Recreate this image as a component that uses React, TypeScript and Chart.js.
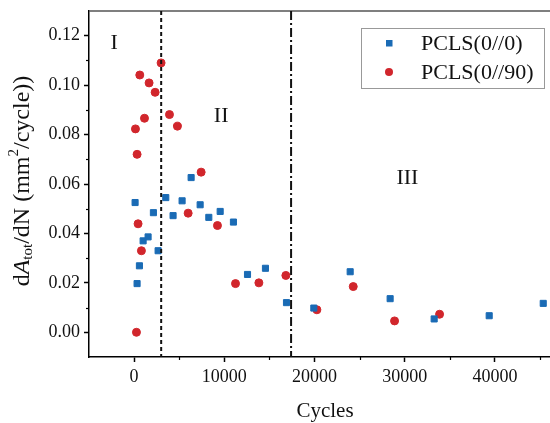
import React, { useEffect, useRef } from 'react';
import { Chart, registerables } from 'chart.js';

Chart.register(...registerables);

// PCLS(0//0) — blue squares
const cyclesA = [110, 330, 590, 1000, 1550, 2140, 2660, 3510, 4320, 5320, 6320, 7320, 8280, 9540, 11010, 12570, 14560, 16890, 19920, 23950, 28380, 33260, 39360, 45350];
const rateA = [0.0525, 0.0197, 0.0269, 0.037, 0.0386, 0.0484, 0.033, 0.0545, 0.0472, 0.0532, 0.0626, 0.0516, 0.0465, 0.0489, 0.0446, 0.0234, 0.0259, 0.012, 0.0098, 0.0245, 0.0136, 0.0054, 0.0067, 0.0117];

// PCLS(0//90) — red circles
const cyclesB = [150, 260, 330, 440, 630, 810, 1150, 1660, 2330, 2990, 3920, 4800, 5990, 7430, 9240, 11240, 13830, 16820, 20260, 24290, 28870, 33860];
const rateB = [0.0823, 0.0, 0.072, 0.0439, 0.1041, 0.033, 0.0866, 0.1009, 0.0971, 0.109, 0.0881, 0.0834, 0.0482, 0.0648, 0.0432, 0.0197, 0.02, 0.023, 0.0091, 0.0185, 0.0046, 0.0073];

const seriesLabels = ['PCLS(0//0)', 'PCLS(0//90)'];
const seriesColors = ['#1a6bb5', '#d1262c'];

const xTicks = [0, 10000, 20000, 30000, 40000];
const xMinorTicks = [5000, 15000, 25000, 35000, 45000];
const yTicks = [0, 0.02, 0.04, 0.06, 0.08, 0.1, 0.12];
const yMinorTicks = [0.01, 0.03, 0.05, 0.07, 0.09, 0.11];

const stageBoundaries = [3000, 17400];
const stageNames = ['I', 'II', 'III'];
const stageNameX = [-2200, 9650, 30300];
const stageNameY = [0.117, 0.0875, 0.0625];

const FONT = '"Liberation Serif", "Times New Roman", serif';

const overlayPlugin = {
  id: 'overlay',
  afterDatasetsDraw(chart: any) {
    const { ctx, chartArea, scales } = chart;
    const xs = scales.x;
    const ys = scales.y;
    ctx.save();

    // top frame line
    ctx.strokeStyle = '#555';
    ctx.lineWidth = 1.5;
    ctx.beginPath();
    ctx.moveTo(chartArea.left, chartArea.top);
    ctx.lineTo(chartArea.right, chartArea.top);
    ctx.stroke();

    // minor ticks
    ctx.strokeStyle = '#000';
    ctx.lineWidth = 1.2;
    xMinorTicks.forEach((v) => {
      const px = Math.round(xs.getPixelForValue(v)) + 0.5;
      ctx.beginPath();
      ctx.moveTo(px, chartArea.bottom);
      ctx.lineTo(px, chartArea.bottom + 3);
      ctx.stroke();
    });
    yMinorTicks.forEach((v) => {
      const py = Math.round(ys.getPixelForValue(v)) + 0.5;
      ctx.beginPath();
      ctx.moveTo(chartArea.left, py);
      ctx.lineTo(chartArea.left - 3, py);
      ctx.stroke();
    });

    // stage boundaries
    const dashes = [[4, 3], [9, 3, 2, 3]];
    stageBoundaries.forEach((v, i) => {
      const px = xs.getPixelForValue(v);
      ctx.strokeStyle = '#111';
      ctx.lineWidth = 2;
      ctx.setLineDash(dashes[i]);
      ctx.beginPath();
      ctx.moveTo(px, chartArea.top);
      ctx.lineTo(px, chartArea.bottom);
      ctx.stroke();
    });
    ctx.setLineDash([]);

    // stage names
    ctx.fillStyle = '#111';
    ctx.font = `22px ${FONT}`;
    ctx.textAlign = 'center';
    ctx.textBaseline = 'middle';
    stageNames.forEach((n, i) => {
      ctx.fillText(n, xs.getPixelForValue(stageNameX[i]), ys.getPixelForValue(stageNameY[i]));
    });

    // legend
    const lx = 361, ly = 28, lw = 183, lh = 60;
    ctx.fillStyle = '#fff';
    ctx.fillRect(lx, ly, lw, lh);
    ctx.strokeStyle = '#999';
    ctx.lineWidth = 1;
    ctx.strokeRect(lx + 0.5, ly + 0.5, lw, lh);
    const rows = [43, 72];
    seriesLabels.forEach((lab, i) => {
      ctx.fillStyle = seriesColors[i];
      if (i === 0) {
        ctx.fillRect(389 - 3, rows[i] - 3, 6.5, 6.5);
      } else {
        ctx.beginPath();
        ctx.arc(389, rows[i], 4, 0, Math.PI * 2);
        ctx.fill();
      }
      ctx.fillStyle = '#111';
      ctx.font = `22px ${FONT}`;
      ctx.textAlign = 'left';
      ctx.textBaseline = 'middle';
      ctx.fillText(lab, 421, rows[i] + 1);
    });

    // x title
    ctx.fillStyle = '#111';
    ctx.font = `21px ${FONT}`;
    ctx.textAlign = 'center';
    ctx.textBaseline = 'middle';
    ctx.fillText('Cycles', 325, 411);

    // y title (rotated, rich text)
    const big = 24;
    const small = 15;
    const parts: { t: string; size: number; italic?: boolean; dy: number }[] = [
      { t: 'd', size: big, dy: 0 },
      { t: 'A', size: big, italic: true, dy: 0 },
      { t: 'tot', size: small, dy: 5 },
      { t: '/dN (mm', size: big, dy: 0 },
      { t: '2', size: small, dy: -9 },
      { t: '/cycle))', size: big, dy: 0 },
    ];
    let total = 0;
    parts.forEach((p) => {
      ctx.font = `${p.italic ? 'italic ' : ''}${p.size}px ${FONT}`;
      total += ctx.measureText(p.t).width;
    });
    ctx.translate(23, 181);
    ctx.rotate(-Math.PI / 2);
    ctx.textAlign = 'left';
    ctx.textBaseline = 'middle';
    let cx = -total / 2;
    parts.forEach((p) => {
      ctx.font = `${p.italic ? 'italic ' : ''}${p.size}px ${FONT}`;
      ctx.fillText(p.t, cx, p.dy);
      cx += ctx.measureText(p.t).width;
    });

    ctx.restore();
  },
};

export default function App() {
  const ref = useRef<HTMLCanvasElement | null>(null);

  useEffect(() => {
    if (!ref.current) return;
    const chart = new Chart(ref.current, {
      type: 'scatter',
      data: {
        datasets: [
          {
            label: seriesLabels[0],
            data: cyclesA.map((x, i) => ({ x, y: rateA[i] })),
            pointStyle: 'rect',
            pointRadius: 4.3,
            pointBackgroundColor: seriesColors[0],
            pointBorderColor: seriesColors[0],
            pointBorderWidth: 1,
            showLine: false,
          },
          {
            label: seriesLabels[1],
            data: cyclesB.map((x, i) => ({ x, y: rateB[i] })),
            pointStyle: 'circle',
            pointRadius: 4,
            pointBackgroundColor: seriesColors[1],
            pointBorderColor: seriesColors[1],
            pointBorderWidth: 1,
            showLine: false,
          },
        ],
      },
      options: {
        animation: false,
        responsive: false,
        devicePixelRatio: 1,
        layout: { autoPadding: false, padding: { top: 11, right: 0, left: 0, bottom: 0 } },
        plugins: { legend: { display: false }, tooltip: { enabled: false } },
        scales: {
          x: {
            type: 'linear',
            min: -5000,
            max: 46100,
            afterFit: (s: any) => { s.height = 66; s.paddingLeft = 0; s.paddingRight = 0; },
            afterBuildTicks: (s: any) => { s.ticks = xTicks.map((v) => ({ value: v })); },
            border: { display: true, color: '#000', width: 1.5 },
            grid: { drawOnChartArea: false, drawTicks: true, tickLength: 5, tickColor: '#000', tickWidth: 1.5 },
            ticks: {
              color: '#111',
              padding: 4,
              font: { family: FONT, size: 18 },
              callback: (v: any) => String(v),
              maxRotation: 0,
              autoSkip: false,
            },
          },
          y: {
            type: 'linear',
            min: -0.01,
            max: 0.13,
            afterFit: (s: any) => { s.width = 89; s.paddingTop = 0; s.paddingBottom = 0; },
            afterBuildTicks: (s: any) => { s.ticks = yTicks.map((v) => ({ value: v })); },
            border: { display: true, color: '#000', width: 1.5 },
            grid: { drawOnChartArea: false, drawTicks: true, tickLength: 5, tickColor: '#000', tickWidth: 1.5 },
            ticks: {
              color: '#111',
              padding: 4,
              font: { family: FONT, size: 18 },
              callback: (v: any) => Number(v).toFixed(2),
              autoSkip: false,
            },
          },
        },
      },
      plugins: [overlayPlugin],
    } as any);
    return () => chart.destroy();
  }, []);

  return (
    <div style={{ position: 'fixed', left: 0, top: 0, width: 550, height: 423, background: '#fff', overflow: 'hidden' }}>
      <canvas ref={ref} width={550} height={423} style={{ display: 'block' }} />
    </div>
  );
}
